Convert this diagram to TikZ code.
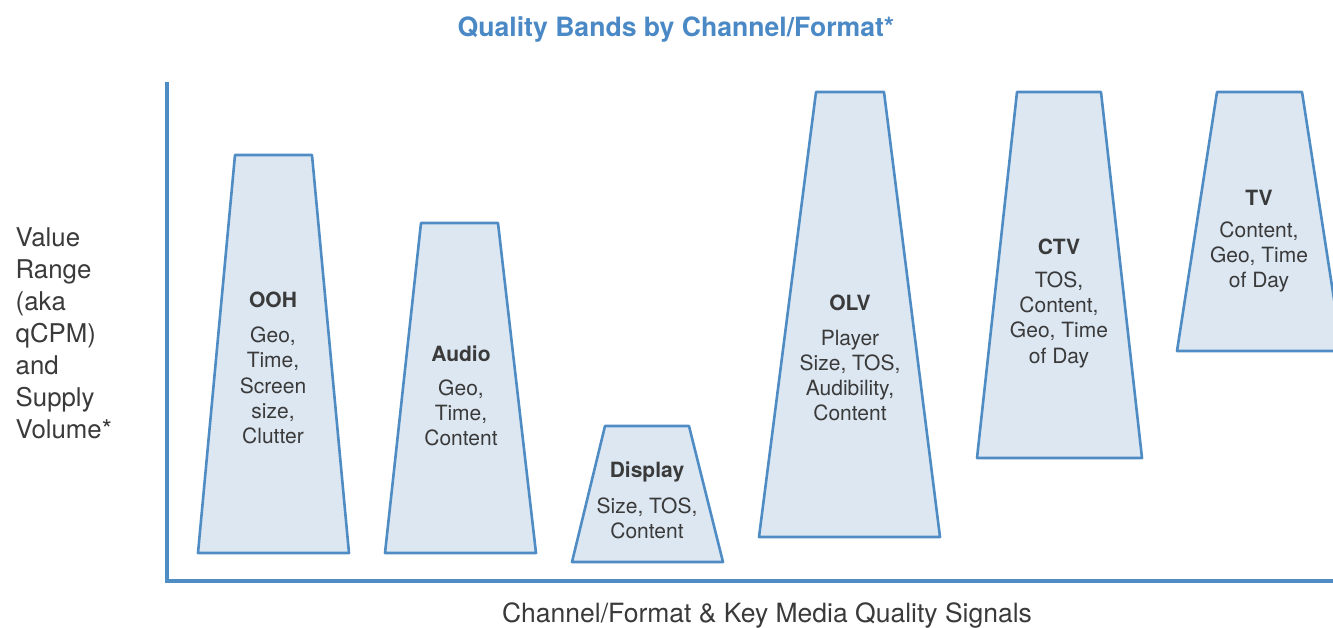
\documentclass[tikz,border=0pt]{standalone}
\usepackage{fontspec}
\setmainfont{TeX Gyre Heros}
\definecolor{bandline}{HTML}{4F8CC4}
\definecolor{bandfill}{HTML}{DCE7F2}
\definecolor{titleblue}{HTML}{4A89C5}
\definecolor{txt}{HTML}{3A3A3A}
\begin{document}
\begin{tikzpicture}[x=1pt,y=-1pt,
  band/.style={draw=bandline,fill=bandfill,line width=2.6pt,line join=round},
  axisline/.style={draw=bandline,line width=3.6pt,line cap=butt},
  head/.style={font=\fontsize{21}{25}\selectfont\bfseries,text=txt,inner sep=0pt},
  body/.style={font=\fontsize{21}{25.3}\selectfont,text=txt,align=center,inner sep=0pt},
  bigtext/.style={text=txt,inner sep=0pt}]
\useasboundingbox (0,0) rectangle (1333,628);
\clip (0,0) rectangle (1333,628);
% title
\node[font=\fontsize{26.6}{30}\selectfont\bfseries,text=titleblue,inner sep=0pt] (title) at (676,29.5) {Quality Bands by Channel/Format*};
% axes
\coordinate (ytop) at (167,82);
\coordinate (origin) at (167,581);
\coordinate (xend) at (1340,581);
\draw[axisline] (ytop) -- (origin) -- (xend);
% axis labels
\node[bigtext,align=left,anchor=west,font=\fontsize{25.8}{32}\selectfont] (ylabel) at (15.5,333) {Value\\Range\\(aka\\qCPM)\\and\\Supply\\Volume*};
\node[bigtext,font=\fontsize{26.5}{30}\selectfont] (xlabel) at (767,615) {Channel/Format \& Key Media Quality Signals};
% bands
\draw[band] (235,155) -- (312,155) -- (349,553) -- (198,553) -- cycle;
\draw[band] (421,223) -- (498,223) -- (536,553) -- (385,553) -- cycle;
\draw[band] (605,426) -- (689,426) -- (723,562) -- (572,562) -- cycle;
\draw[band] (816,92) -- (884,92) -- (940,537) -- (759,537) -- cycle;
\draw[band] (1017,92) -- (1101,92) -- (1142,458) -- (977,458) -- cycle;
\draw[band] (1217,92) -- (1302,92) -- (1342,351) -- (1177,351) -- cycle;
% labels
\node[head] (oohH) at (273,299.5) {OOH};
\node[body] (oohB) at (273,385.5) {Geo,\\Time,\\Screen\\size,\\Clutter};
\node[head] (audH) at (461,353.5) {Audio};
\node[body] (audB) at (461,413) {Geo,\\Time,\\Content};
\node[head] (disH) at (647,471.5) {Display};
\node[body] (disB) at (647,518) {Size, TOS,\\Content};
\node[head] (olvH) at (850,302.5) {OLV};
\node[body] (olvB) at (850,375.5) {Player\\Size, TOS,\\Audibility,\\Content};
\node[head] (ctvH) at (1059,246.5) {CTV};
\node[body] (ctvB) at (1059,319.5) {TOS,\\Content,\\Geo, Time\\of Day};
\node[head] (tvH) at (1259,197.5) {TV};
\node[body] (tvB) at (1259,257) {Content,\\Geo, Time\\of Day};
\end{tikzpicture}
\end{document}
